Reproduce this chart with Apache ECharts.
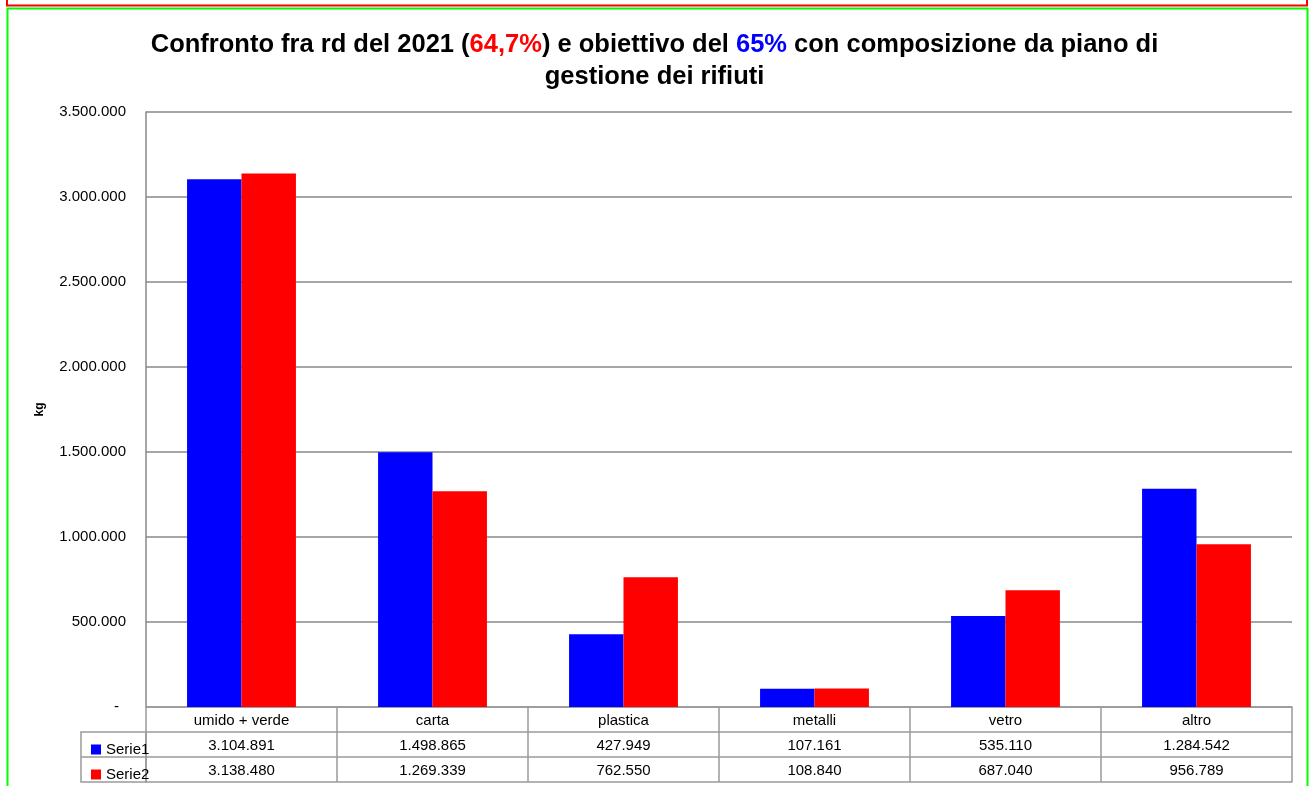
<!DOCTYPE html>
<html>
<head>
<meta charset="utf-8">
<script src="https://cdn.jsdelivr.net/npm/echarts@6/dist/echarts.min.js"></script>
<style>
html,body{margin:0;padding:0;background:#fff;}
#main{width:1309px;height:786px;}
</style>
</head>
<body>
<div id="main"></div>
<script>
const categories = ['umido + verde', 'carta', 'plastica', 'metalli', 'vetro', 'altro'];
const serie1 = [3104891, 1498865, 427949, 107161, 535110, 1284542];
const serie2 = [3138480, 1269339, 762550, 108840, 687040, 956789];
const seriesNames = ['Serie1', 'Serie2'];
const yTicks = { min: 0, max: 3500000, interval: 500000 };

function fmt(v) {
  if (v === 0) return '-';
  return String(Math.round(v)).replace(/\B(?=(\d{3})+(?!\d))/g, '.');
}

const FONT = 'Liberation Sans';
const lineCol = '#9a9a9a';
const gridCol = '#888888';

const chart = echarts.init(document.getElementById('main'));

const tableAxis = (offset, labels, showTicks) => ({
  type: 'category',
  gridIndex: 0,
  position: 'bottom',
  offset: offset,
  data: labels,
  axisLine: { show: true, lineStyle: { color: lineCol, width: 1.5 } },
  axisTick: { show: showTicks, length: 25, alignWithLabel: false, interval: 0, lineStyle: { color: lineCol, width: 1.5 } },
  axisLabel: { show: showTicks, interval: 0, margin: 6, fontFamily: FONT, fontSize: 15, color: '#000', lineHeight: 15 },
  splitLine: { show: false }
});

const legendFor = (name, top) => ({
  left: 86, top: top,
  itemWidth: 10, itemHeight: 10,
  icon: 'rect',
  selectedMode: false,
  data: [name],
  textStyle: { fontFamily: FONT, fontSize: 15, color: '#000', lineHeight: 15 }
});

const TS = 25.5;
const option = {
  backgroundColor: '#fff',
  animation: false,
  title: [
    {
      left: 'center', top: 25,
      text: '{b|Confronto fra rd del 2021 (}{r|64,7%}{b|) e obiettivo del }{u|65%}{b| con composizione da piano di}',
      textStyle: {
        rich: {
          b: { fontFamily: FONT, fontWeight: 'bold', fontSize: TS, color: '#000', lineHeight: 30 },
          r: { fontFamily: FONT, fontWeight: 'bold', fontSize: TS, color: '#ff0000', lineHeight: 30 },
          u: { fontFamily: FONT, fontWeight: 'bold', fontSize: TS, color: '#0000ff', lineHeight: 30 }
        }
      }
    },
    {
      left: 'center', top: 57,
      text: 'gestione dei rifiuti',
      textStyle: { fontFamily: FONT, fontWeight: 'bold', fontSize: TS, color: '#000', lineHeight: 30 }
    }
  ],
  legend: [legendFor(seriesNames[0], 737), legendFor(seriesNames[1], 762)],
  grid: { left: 146, right: 17, top: 112, bottom: 79, containLabel: false },
  xAxis: [
    tableAxis(0, categories, true),
    tableAxis(25, serie1.map(fmt), true),
    tableAxis(50, serie2.map(fmt), true),
    tableAxis(75, categories, false)
  ],
  yAxis: {
    type: 'value',
    min: yTicks.min, max: yTicks.max, interval: yTicks.interval,
    name: 'kg',
    nameLocation: 'middle',
    nameGap: 100,
    nameRotate: 90,
    nameTextStyle: { fontFamily: FONT, fontWeight: 'bold', fontSize: 12, color: '#000' },
    axisLine: { show: true, lineStyle: { color: gridCol, width: 1.5 } },
    axisTick: { show: false },
    splitLine: { show: true, lineStyle: { color: gridCol, width: 1.5 } },
    axisLabel: {
      margin: 20,
      fontFamily: FONT, fontSize: 15, color: '#000',
      formatter: v => v === 0 ? '{d|-}' : fmt(v),
      rich: { d: { fontFamily: FONT, fontSize: 15, color: '#000', padding: [0, 7, 0, 0] } }
    }
  },
  series: [
    { name: seriesNames[0], type: 'bar', xAxisIndex: 0, data: serie1, barGap: 0, barCategoryGap: '43%', itemStyle: { color: '#0000ff' } },
    { name: seriesNames[1], type: 'bar', xAxisIndex: 0, data: serie2, barGap: 0, barCategoryGap: '43%', itemStyle: { color: '#ff0000' } }
  ],
  graphic: [
    { type: 'rect', silent: true, shape: { x: 7, y: -10, width: 1300, height: 15.5 }, style: { fill: 'none', stroke: '#ff0000', lineWidth: 2 } },
    { type: 'rect', silent: true, shape: { x: 7.5, y: 8.5, width: 1300, height: 800 }, style: { fill: 'none', stroke: '#00ff00', lineWidth: 2 } },
    { type: 'rect', silent: true, shape: { x: 81, y: 732, width: 65, height: 50 }, style: { fill: 'none', stroke: lineCol, lineWidth: 1.5 } },
    { type: 'line', silent: true, shape: { x1: 81, y1: 757, x2: 146, y2: 757 }, style: { stroke: lineCol, lineWidth: 1.5 } }
  ]
};
chart.setOption(option);
</script>
</body>
</html>
